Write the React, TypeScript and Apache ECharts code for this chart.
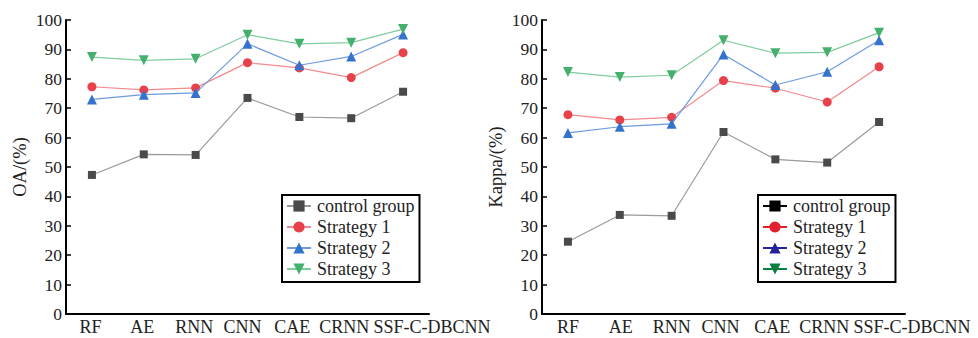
import React, { useEffect, useRef } from "react";
import * as echarts from "echarts";

const categories = ["RF", "AE", "RNN", "CNN", "CAE", "CRNN", "SSF-C-DBCNN"];
const seriesNames = ["control group", "Strategy 1", "Strategy 2", "Strategy 3"];
const yTicks = [0, 10, 20, 30, 40, 50, 60, 70, 80, 90, 100];

const oaControl = [47.3, 54.3, 54.1, 73.5, 67.0, 66.6, 75.6];
const oaS1 = [77.3, 76.2, 76.9, 85.5, 83.7, 80.4, 88.9];
const oaS2 = [73.0, 74.6, 75.2, 91.9, 84.6, 87.6, 95.1];
const oaS3 = [87.4, 86.3, 86.8, 95.0, 91.9, 92.3, 96.9];

const kControl = [24.6, 33.7, 33.4, 61.9, 52.6, 51.5, 65.3];
const kS1 = [67.8, 66.0, 66.9, 79.4, 76.8, 72.1, 84.1];
const kS2 = [61.6, 63.7, 64.7, 88.3, 77.9, 82.4, 93.1];
const kS3 = [82.3, 80.6, 81.2, 93.1, 88.7, 89.0, 95.7];

const FONT = "Liberation Serif";
const markerColors = ["#4a4a4a", "#e8414a", "#3473cc", "#45b06e"];
const lineColors = ["#9a9a9a", "#f08a8e", "#6d9be0", "#7fcc9c"];
const symbols = ["rect", "circle", "triangle", "path://M0,0 L10,0 L5,9 Z"];
const symbolSizes = [8, 9, 10, 10];
const rightLegendColors = ["#000000", "#e0202c", "#22229a", "#0a8040"];

// layout only: horizontal nudge (px) of each category label, per panel
const labelShift = [
  [-1.5, -1.5, -1.5, -5, -7, -7, 29],
  [0, 1, 0, -3, -3, -3, 33],
];

export default function App() {
  const ref = useRef<HTMLDivElement>(null);
  useEffect(() => {
    if (!ref.current) return;
    const chart = echarts.init(ref.current, null, { renderer: "svg" });
    const grids = [
      { left: 66, top: 20, width: 363, height: 294 },
      { left: 542, top: 20, width: 363, height: 294 },
    ];
    const names = ["OA/(%)", "Kappa/(%)"];
    const data = [
      [oaControl, oaS1, oaS2, oaS3],
      [kControl, kS1, kS2, kS3],
    ];
    const xAxis = grids.map((_, i) => ({
      type: "category",
      gridIndex: i,
      data: categories.map((c, ci) => {
        const s = labelShift[i][ci];
        const pad = s >= 0 ? [0, 0, 0, 2 * s] : [0, -2 * s, 0, 0];
        return { value: c, textStyle: { padding: pad } };
      }),
      boundaryGap: true,
      axisLine: { lineStyle: { color: "#000", width: 2 } },
      axisTick: { alignWithLabel: true, inside: true, length: 5, lineStyle: { color: "#000", width: 1.5 } },
      axisLabel: { color: "#222", fontFamily: FONT, fontSize: 18, margin: 4, interval: 0 },
      splitLine: { show: false },
    }));
    const yAxis = grids.map((_, i) => ({
      type: "value",
      gridIndex: i,
      min: yTicks[0],
      max: yTicks[yTicks.length - 1],
      interval: 10,
      name: names[i],
      nameLocation: "middle",
      nameGap: 37,
      nameTextStyle: { color: "#222", fontFamily: FONT, fontSize: 18.5 },
      axisLine: { show: true, lineStyle: { color: "#000", width: 2 } },
      axisTick: { show: true, inside: true, length: 5, lineStyle: { color: "#000", width: 1.5 } },
      axisLabel: { color: "#222", fontFamily: FONT, fontSize: 17.5, margin: 4 },
      splitLine: { show: false },
    }));
    const series: any[] = [];
    data.forEach((group, gi) => {
      group.forEach((vals, si) => {
        series.push({
          type: "line",
          name: seriesNames[si],
          xAxisIndex: gi,
          yAxisIndex: gi,
          data: vals,
          symbol: symbols[si],
          symbolSize: symbolSizes[si],
          itemStyle: { color: markerColors[si] },
          lineStyle: { color: lineColors[si], width: 1.2 },
          z: 2 + si,
        });
      });
    });
    const legendBase = {
      orient: "vertical",
      top: 195,
      padding: [2, 5, 4, 4],
      itemGap: 3,
      itemWidth: 24,
      itemHeight: 14,
      borderColor: "#000",
      borderWidth: 2,
      borderRadius: 0,
      selectedMode: false,
      textStyle: { color: "#222", fontFamily: FONT, fontSize: 18, padding: [0, 0, 0, 1] },
    };
    const option: any = {
      animation: false,
      backgroundColor: "#fff",
      textStyle: { fontFamily: FONT },
      grid: grids,
      xAxis,
      yAxis,
      series,
      legend: [
        {
          ...legendBase,
          left: 282,
          data: seriesNames.map((n, i) => ({
            name: n,
            itemStyle: { color: markerColors[i] },
            lineStyle: { color: lineColors[i] },
          })),
        },
        {
          ...legendBase,
          left: 758,
          data: seriesNames.map((n, i) => ({
            name: n,
            itemStyle: { color: rightLegendColors[i] },
            lineStyle: { color: rightLegendColors[i] },
          })),
        },
      ],
    };
    chart.setOption(option);
    return () => chart.dispose();
  }, []);
  return (
    <div
      ref={ref}
      style={{ position: "fixed", left: 0, top: 0, width: 978, height: 338, background: "#fff" }}
    />
  );
}
